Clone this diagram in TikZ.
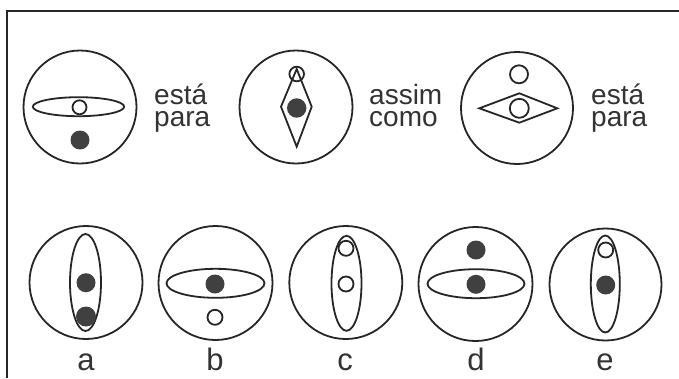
\documentclass[tikz,border=0pt]{standalone}
\usepackage{fontspec}
\setmainfont{Liberation Sans}
\definecolor{ink}{HTML}{262626}
\definecolor{dotc}{HTML}{404040}
\definecolor{txt}{HTML}{333333}
\begin{document}
\begin{tikzpicture}[x=1pt,y=-1pt,
  ln/.style={draw=ink, line width=1.8pt},
  dotfill/.style={fill=dotc, draw=none},
  hole/.style={draw=ink, line width=1.8pt, fill=white},
  word/.style={text=txt, inner sep=0pt, anchor=base west, align=left, font=\fontsize{28}{22.5}\selectfont},
  letter/.style={text=txt, inner sep=0pt, anchor=base, font=\fontsize{31}{31}\selectfont}]
\useasboundingbox (0,0) rectangle (679,378);
\fill[white] (0,0) rectangle (679,378);
% frame
\draw[ink, line width=2pt] (7,378) -- (7,10.5) -- (679,10.5);

% ---- top row ----
% figure 1
\draw[ln] (80,107) circle (56.5);
\draw[ln] (78.5,106.7) ellipse [x radius=45.7, y radius=9.5];
\draw[hole] (79.5,107.3) circle (7);
\fill[dotfill] (80,140) circle (9.5);
\node[word] (w1) at (154,126.5) {está\\para};

% figure 2
\draw[ln] (296,107) circle (56.5);
\draw[ln] (296.7,69) -- (281,106.7) -- (296.7,146.7) -- (311.7,106.7) -- cycle;
\draw[ln] (296.7,74) circle (7.3);
\fill[dotfill] (296.7,108) circle (9.7);
\node[word] (w2) at (369,126.5) {assim\\como};

% figure 3
\draw[ln] (517,108) circle (56);
\draw[hole] (519,74.3) circle (9);
\draw[ln] (479.3,108.3) -- (519.3,93.3) -- (557.3,108.3) -- (519.3,122.7) -- cycle;
\draw[hole] (519.3,108.3) circle (9.5);
\node[word] (w3) at (591,126.5) {está\\para};

% ---- bottom row ----
% a
\draw[ln] (86,282.5) circle (56.5);
\draw[ln] (85.5,282.5) ellipse [x radius=15.5, y radius=48.5];
\fill[dotfill] (86,282.7) circle (9.5);
\fill[dotfill] (86,316.5) circle (10);
\node[letter] (la) at (86,370) {a};

% b
\draw[ln] (215.5,283) circle (57);
\draw[ln] (215.5,283.3) ellipse [x radius=49, y radius=14.5];
\fill[dotfill] (215,284) circle (9.5);
\draw[hole] (215,317.3) circle (7.5);
\node[letter] (lb) at (215,370) {b};

% c
\draw[ln] (345.8,282.5) circle (56.5);
\draw[ln] (346.5,283.3) ellipse [x radius=15, y radius=47.5];
\draw[hole] (346,248.3) circle (7.5);
\draw[hole] (346,284) circle (7.5);
\node[letter] (lc) at (345,370) {c};

% d
\draw[ln] (475.5,284) circle (57);
\draw[ln] (476,283.7) ellipse [x radius=48.5, y radius=14.5];
\fill[dotfill] (476,250) circle (9.5);
\fill[dotfill] (476,284.3) circle (9.5);
\node[letter] (ld) at (476,370) {d};

% e
\draw[ln] (605.5,284.5) circle (56);
\draw[ln] (605.3,284) ellipse [x radius=14.5, y radius=48.5];
\draw[hole] (605.7,250) circle (7.5);
\fill[dotfill] (605.7,285) circle (9.5);
\node[letter] (le) at (605,370) {e};
\end{tikzpicture}
\end{document}
